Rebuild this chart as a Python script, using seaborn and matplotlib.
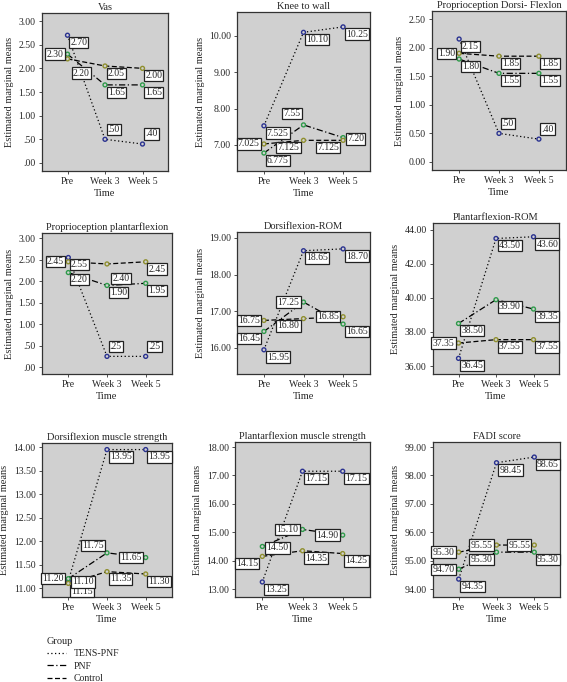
import numpy as np
import pandas as pd
import matplotlib
matplotlib.use("Agg")
import matplotlib.pyplot as plt
from matplotlib.lines import Line2D
import seaborn as sns

sns.set_theme(style="white")
plt.rcParams['font.family'] = ['Liberation Serif', 'DejaVu Serif']

times = ["Pre", "Week 3", "Week 5"]
groups = ["TENS-PNF", "PNF", "Control"]

titles = ["Vas", "Knee to wall", "Proprioception Dorsi- Flexlon",
          "Proprioception plantarflexion", "Dorsiflexion-ROM", "Plantarflexion-ROM",
          "Dorsiflexion muscle strength", "Plantarflexion muscle strength", "FADI score"]

vas_tens = [2.70, 0.50, 0.40]
vas_pnf = [2.30, 1.65, 1.65]
vas_ctrl = [2.20, 2.05, 2.00]

knee_tens = [7.525, 10.10, 10.25]
knee_pnf = [6.775, 7.55, 7.20]
knee_ctrl = [7.025, 7.125, 7.125]

pdf_tens = [2.15, 0.50, 0.40]
pdf_pnf = [1.80, 1.55, 1.55]
pdf_ctrl = [1.90, 1.85, 1.85]

ppf_tens = [2.55, 0.25, 0.25]
ppf_pnf = [2.20, 1.90, 1.95]
ppf_ctrl = [2.45, 2.40, 2.45]

drom_tens = [15.95, 18.65, 18.70]
drom_pnf = [16.45, 17.25, 16.65]
drom_ctrl = [16.75, 16.80, 16.85]

prom_tens = [36.45, 43.50, 43.60]
prom_pnf = [38.50, 39.90, 39.35]
prom_ctrl = [37.35, 37.55, 37.55]

dms_tens = [11.15, 13.95, 13.95]
dms_pnf = [11.20, 11.75, 11.65]
dms_ctrl = [11.10, 11.35, 11.30]

pms_tens = [13.25, 17.15, 17.15]
pms_pnf = [14.50, 15.10, 14.90]
pms_ctrl = [14.15, 14.35, 14.25]

fadi_tens = [94.35, 98.45, 98.65]
fadi_pnf = [94.70, 95.30, 95.30]
fadi_ctrl = [95.30, 95.55, 95.55]

label_texts = {
    0: (["2.70", ".50", ".40"], ["2.30", "1.65", "1.65"], ["2.20", "2.05", "2.00"]),
    1: (["7.525", "10.10", "10.25"], ["6.775", "7.55", "7.20"], ["7.025", "7.125", "7.125"]),
    2: (["2.15", ".50", ".40"], ["1.80", "1.55", "1.55"], ["1.90", "1.85", "1.85"]),
    3: (["2.55", ".25", ".25"], ["2.20", "1.90", "1.95"], ["2.45", "2.40", "2.45"]),
    4: (["15.95", "18.65", "18.70"], ["16.45", "17.25", "16.65"], ["16.75", "16.80", "16.85"]),
    5: (["36.45", "43.50", "43.60"], ["38.50", "39.90", "39.35"], ["37.35", "37.55", "37.55"]),
    6: (["11.15", "13.95", "13.95"], ["11.20", "11.75", "11.65"], ["11.10", "11.35", "11.30"]),
    7: (["13.25", "17.15", "17.15"], ["14.50", "15.10", "14.90"], ["14.15", "14.35", "14.25"]),
    8: (["94.35", "98.45", "98.65"], ["94.70", "95.30", "95.30"], ["95.30", "95.55", "95.55"]),
}

panel_data = [
    (vas_tens, vas_pnf, vas_ctrl),
    (knee_tens, knee_pnf, knee_ctrl),
    (pdf_tens, pdf_pnf, pdf_ctrl),
    (ppf_tens, ppf_pnf, ppf_ctrl),
    (drom_tens, drom_pnf, drom_ctrl),
    (prom_tens, prom_pnf, prom_ctrl),
    (dms_tens, dms_pnf, dms_ctrl),
    (pms_tens, pms_pnf, pms_ctrl),
    (fadi_tens, fadi_pnf, fadi_ctrl),
]

# label placement codes per panel: (tens, pnf, ctrl) x times
place = {
    0: (["r", "u", "u"], ["l", "r", "r"], ["r2", "r", "r"]),
    1: (["r", "r", "r"], ["r", "ul2", "e"], ["l", "dl", "dl"]),
    2: (["r", "u", "u"], ["r", "r", "r"], ["l", "r", "r"]),
    3: (["r", "u", "u"], ["r", "r", "r"], ["l", "r2", "r"]),
    4: (["r", "r", "r"], ["dl", "l", "r"], ["l", "dl", "l"]),
    5: (["r", "r", "r"], ["r", "r", "r"], ["l", "r", "r"]),
    6: (["rd", "r", "r"], ["l", "ul", "l"], ["eu", "r", "r"]),
    7: (["r", "r", "r"], ["e", "l", "l"], ["dl", "r", "r"]),
    8: (["r", "r", "r"], ["l", "dl", "r"], ["l", "l", "l"]),
}

offsets = {
    "r": ((2, -2), "left", "top"),
    "rd": ((2, -4), "left", "top"),
    "r2": ((4, -7), "left", "top"),
    "l": ((-3, 0), "right", "center"),
    "u": ((2, 4), "left", "bottom"),
    "ul": ((-2, 2), "right", "bottom"),
    "ul2": ((-2, 5), "right", "bottom"),
    "dl": ((-3, -2), "right", "top"),
    "e": ((3, -1), "left", "center"),
    "eu": ((3, 1), "left", "center"),
}

ylims = [(-0.17, 3.17), (6.28, 10.66), (-0.14, 2.64), (-0.16, 3.12), (15.29, 19.16),
         (35.53, 44.41), (10.81, 14.09), (12.72, 18.18), (93.72, 99.18)]
yticks = [np.arange(0, 3.01, 0.5), [7, 8, 9, 10], np.arange(0, 2.51, 0.5),
          np.arange(0, 3.01, 0.5), [16, 17, 18, 19], [36, 38, 40, 42, 44],
          np.arange(11, 14.01, 0.5), [13, 14, 15, 16, 17, 18], [94, 95, 96, 97, 98, 99]]
strip_zero = [True, True, False, True, True, True, True, True, True]

# axes positions in pixels: left, right, top, bottom
boxes = [(42, 168, 13, 171), (237, 370, 12, 171), (432, 566, 11, 170),
         (42, 172, 233, 374), (237, 370, 232, 374), (433, 559, 223, 374),
         (42, 172, 443, 597), (235, 370, 442, 597), (433, 560, 442, 597)]

W, H = 567, 682
fig = plt.figure(figsize=(W / 100, H / 100), dpi=100)
fig.patch.set_facecolor("white")

dash_map = {"TENS-PNF": (1, 2), "PNF": (5, 2, 1, 2), "Control": (4, 2)}
marker_colors = {"TENS-PNF": "#2a3290", "PNF": "#2e9a4a", "Control": "#8f8f2e"}

for i in range(9):
    l, r, t, b = boxes[i]
    ax = fig.add_axes([l / W, 1 - b / H, (r - l) / W, (b - t) / H])
    ax.set_facecolor("#d0d0d0")
    rows = []
    for g, vals in zip(groups, panel_data[i]):
        for tm, v in zip(times, vals):
            rows.append({"Time": tm, "Group": g, "Value": v})
    df = pd.DataFrame(rows)
    sns.lineplot(data=df, x="Time", y="Value", style="Group", style_order=groups,
                 dashes=dash_map, color="black", linewidth=0.9, ax=ax, legend=False,
                 sort=False)
    sns.scatterplot(data=df, x="Time", y="Value", hue="Group", hue_order=groups,
                    palette=marker_colors, s=8, ax=ax, legend=False, zorder=4)
    coll = ax.collections[-1]
    fcs = coll.get_facecolors()
    coll.set_edgecolors(fcs)
    coll.set_facecolors("#d0d0d0")
    coll.set_linewidths(1.0)

    for gi, g in enumerate(groups):
        vals = panel_data[i][gi]
        for ti in range(3):
            (dx, dy), ha, va = offsets[place[i][gi][ti]]
            ax.annotate(label_texts[i][gi][ti], xy=(ti, vals[ti]), xytext=(dx, dy),
                        textcoords="offset points", ha=ha, va=va, fontsize=7,
                        zorder=6,
                        bbox=dict(boxstyle="square,pad=0.12", fc="white",
                                  ec="#222222", lw=0.9))

    ax.set_xlim(-0.68, 2.68)
    ax.set_ylim(*ylims[i])
    ax.set_yticks(yticks[i])
    if strip_zero[i]:
        labs = []
        for v in yticks[i]:
            s = f"{v:.2f}"
            if s.startswith("0."):
                s = s[1:]
            labs.append(s)
    else:
        labs = [f"{v:.2f}" for v in yticks[i]]
    ax.set_yticklabels(labs)
    ax.set_xticks([0, 1, 2])
    ax.set_xticklabels(times)
    ax.tick_params(axis="both", labelsize=7, length=2.5, width=0.6, direction="out",
                   color="#333333", pad=2, left=True, bottom=True)
    for sp in ax.spines.values():
        sp.set_color("#333333")
        sp.set_linewidth(0.9)
    ax.set_xlabel("Time", fontsize=7.5, labelpad=2)
    ax.set_ylabel("Estimated marginal means", fontsize=7.5, labelpad=3)
    ax.set_title(titles[i], fontsize=7.5, pad=2)
    ax.grid(False)

handles = [Line2D([], [], color="black", lw=0.9, dashes=dash_map[g]) for g in groups]
leg = fig.legend(handles, groups, title="Group", loc="upper left",
                 bbox_to_anchor=(38 / W, 1 - 628 / H), frameon=False, fontsize=7,
                 title_fontsize=7.5, handlelength=2.0, handletextpad=0.8,
                 labelspacing=0.35, alignment="left")

fig.savefig("out.png", dpi=100, facecolor="white")
